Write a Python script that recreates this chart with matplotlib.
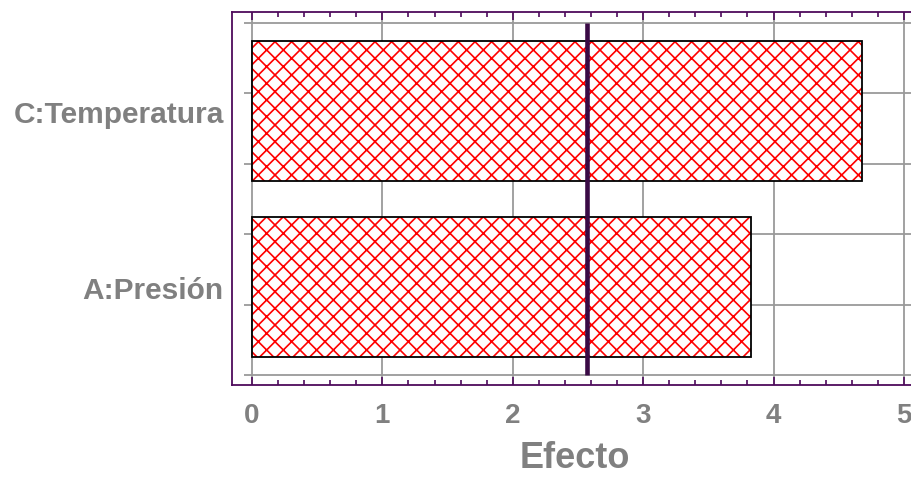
import matplotlib
matplotlib.use("Agg")
import matplotlib.pyplot as plt
from matplotlib.ticker import MultipleLocator

# Standardized effects (Pareto chart)
factors = ["A:Presión", "C:Temperatura"]
effects = [3.824, 4.678]
critical_value = 2.57
x_ticks = [0, 1, 2, 3, 4, 5]

plt.rcParams["font.family"] = ["Liberation Sans", "DejaVu Sans"]
plt.rcParams["hatch.linewidth"] = 1.2

W, H = 912, 481
fig = plt.figure(figsize=(W / 100, H / 100), dpi=100)

# axes frame in pixel coordinates
left_px, right_px, top_px, bottom_px = 232, 917, 13, 386
ax = fig.add_axes([left_px / W, (H - bottom_px) / H,
                   (right_px - left_px) / W, (bottom_px - top_px) / H])

frame_color = "#4e0b5c"
grid_color = "#9a9a9a"
text_color = "#808080"

ax.set_xlim(-0.153, 5.1)
ax.set_ylim(-0.557, 1.5625)

# grid: vertical lines across the full frame, horizontal lines from just left of 0
for xv in x_ticks:
    ax.axvline(xv, color=grid_color, lw=1.3, zorder=1)
for yv in [-0.5, -0.1, 0.3, 0.7, 1.1, 1.5]:
    ax.plot([-0.062, 5.2], [yv, yv], color=grid_color, lw=1.3, zorder=1,
            solid_capstyle="butt")

ypos = list(range(len(factors)))
# red cross-hatch fill, then a black outline on top
ax.barh(ypos, effects, height=0.795, left=0, facecolor="white",
        edgecolor="#ff0000", linewidth=0, hatch="xx", zorder=2)
ax.barh(ypos, effects, height=0.795, left=0, facecolor="none",
        edgecolor="black", linewidth=1.3, zorder=2.5)

# reference line at the critical value
ax.plot([critical_value, critical_value], [-0.5, 1.5], color="#3a0a45",
        lw=3.3, zorder=3, solid_capstyle="butt")

for s in ax.spines.values():
    s.set_color(frame_color)
    s.set_linewidth(1.3)

ax.set_xticks(x_ticks)
ax.xaxis.set_minor_locator(MultipleLocator(0.2))
ax.tick_params(axis="x", which="both", direction="in", top=True, bottom=True,
               color=frame_color, width=1.2)
ax.tick_params(axis="x", which="major", length=5.5, pad=12,
               labelsize=20, labelcolor=text_color)
ax.tick_params(axis="x", which="minor", length=3.5)
for lbl in ax.get_xticklabels():
    lbl.set_fontweight("bold")

ax.set_yticks(ypos)
ax.set_yticklabels(factors, fontsize=21.5, fontweight="bold", color=text_color)
ax.tick_params(axis="y", which="both", length=0, pad=6)

ax.set_xlabel("Efecto", fontsize=26, fontweight="bold", color=text_color,
              labelpad=9)

fig.savefig("out.png", dpi=100)
